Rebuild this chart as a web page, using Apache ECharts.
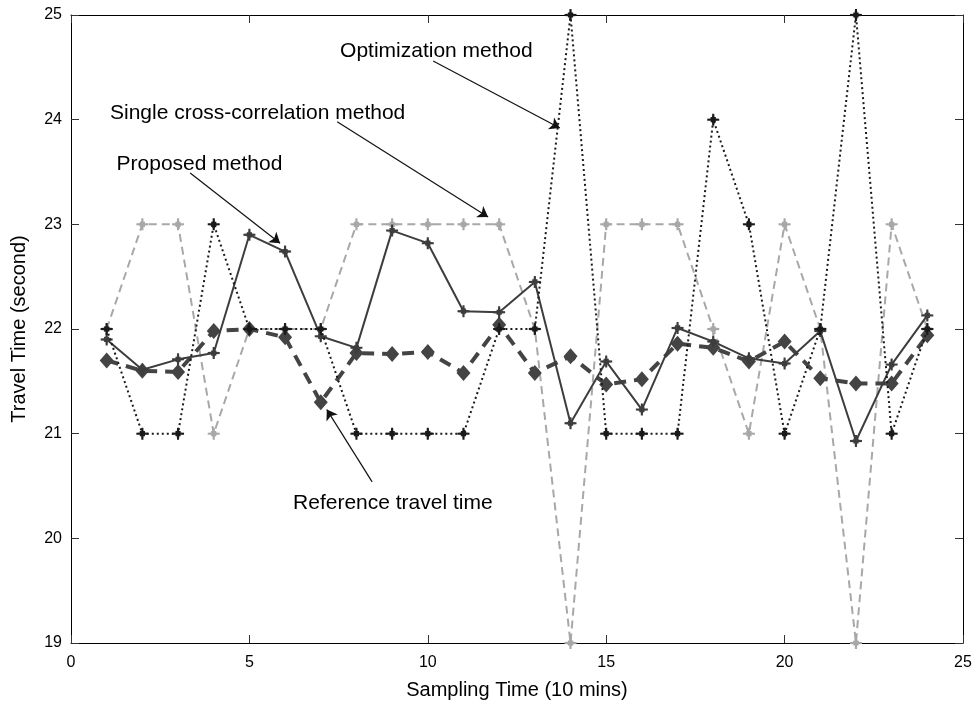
<!DOCTYPE html>
<html>
<head>
<meta charset="utf-8">
<script src="https://cdn.jsdelivr.net/npm/echarts@6/dist/echarts.min.js"></script>
<style>
  html, body { margin: 0; padding: 0; background: #fff; }
  #chart { width: 975px; height: 705px; }
</style>
</head>
<body>
<div id="chart"></div>
<script>
// Données
const samplingTime = [1, 2, 3, 4, 5, 6, 7, 8, 9, 10, 11, 12, 13, 14, 15, 16, 17, 18, 19, 20, 21, 22, 23, 24];
const referenceTime = [21.70, 21.60, 21.59, 21.98, 22.00, 21.92, 21.30, 21.77, 21.76, 21.78, 21.58, 22.04,
                       21.58, 21.74, 21.47, 21.52, 21.86, 21.82, 21.69, 21.88, 21.53, 21.48, 21.48, 21.94];
const proposedTime = [21.90, 21.61, 21.71, 21.77, 22.90, 22.74, 21.93, 21.82, 22.94, 22.82, 22.17, 22.16,
                      22.45, 21.10, 21.69, 21.23, 22.01, 21.88, 21.72, 21.67, 21.98, 20.93, 21.66, 22.13];
const singleTime = [22, 23, 23, 21, 22, 22, 22, 23, 23, 23, 23, 23, 22, 19, 23, 23, 23, 22, 21, 23, 22, 19, 23, 22];
const optimTime = [22, 21, 21, 23, 22, 22, 22, 21, 21, 21, 21, 22, 22, 25, 21, 21, 21, 24, 23, 21, 22, 25, 21, 22];

// Annotations (coordonnées en unités des axes)
const labelTexts = ['Optimization method', 'Single cross-correlation method', 'Proposed method', 'Reference travel time'];
const labelPos = [[10.24, 24.65], [5.23, 24.06], [3.60, 23.57], [9.02, 20.34]];
const arrowFrom = [[10.15, 24.56], [7.46, 23.98], [3.34, 23.49], [8.44, 20.54]];
const arrowTo = [[13.70, 23.92], [11.69, 23.07], [5.86, 22.82], [7.17, 21.23]];

const xTicks = { min: 0, max: 25, interval: 5 };
const yTicks = { min: 19, max: 25, interval: 1 };

const font = 'Liberation Sans, Arial, Helvetica, sans-serif';
// croix épaisse avec centre en losange
const starPath = 'path://M-1,-6 L1,-6 L1.2,-2.6 L2.6,-2.6 L2.6,-1.2 L6,-1 L6,1 L2.6,1.2 L2.6,2.6 L1.2,2.6 L1,6 L-1,6 L-1.2,2.6 L-2.6,2.6 L-2.6,1.2 L-6,1 L-6,-1 L-2.6,-1.2 L-2.6,-2.6 L-1.2,-2.6 Z';

function pairs(values) {
    return samplingTime.map((t, i) => [t, values[i]]);
}

const chart = echarts.init(document.getElementById('chart'));

const axisCommon = {
    axisLine: { show: true, onZero: false, lineStyle: { color: '#000', width: 1 } },
    axisTick: { show: true, inside: true, length: 8, lineStyle: { color: '#333' } },
    splitLine: { show: false }
};

const option = {
    backgroundColor: '#fff',
    animation: false,
    grid: { left: 71, right: 12, top: 15, bottom: 62 },
    xAxis: [
        Object.assign({
            type: 'value', min: xTicks.min, max: xTicks.max, interval: xTicks.interval,
            name: 'Sampling Time (10 mins)', nameLocation: 'middle', nameGap: 37,
            nameTextStyle: { fontFamily: font, fontSize: 20, color: '#000' },
            axisLabel: { fontFamily: font, fontSize: 16, color: '#000', margin: 12 }
        }, axisCommon),
        Object.assign({
            type: 'value', position: 'top', min: xTicks.min, max: xTicks.max, interval: xTicks.interval,
            axisLabel: { show: false }
        }, axisCommon)
    ],
    yAxis: [
        Object.assign({
            type: 'value', min: yTicks.min, max: yTicks.max, interval: yTicks.interval,
            name: 'Travel Time (second)', nameLocation: 'middle', nameGap: 42,
            nameTextStyle: { fontFamily: font, fontSize: 20, color: '#000' },
            axisLabel: { fontFamily: font, fontSize: 16, color: '#000', margin: 9 }
        }, axisCommon),
        Object.assign({
            type: 'value', position: 'right', min: yTicks.min, max: yTicks.max, interval: yTicks.interval,
            axisLabel: { show: false }
        }, axisCommon)
    ],
    series: [
        {
            name: 'Single cross-correlation method',
            type: 'line',
            data: pairs(singleTime),
            clip: false,
            symbol: starPath, symbolSize: 12,
            itemStyle: { color: '#a8a8a8' },
            lineStyle: { color: '#a8a8a8', width: 2, type: [8, 5] },
            z: 2
        },
        {
            name: 'Reference travel time',
            type: 'line',
            data: pairs(referenceTime),
            clip: false,
            symbol: 'diamond', symbolSize: [14, 16],
            itemStyle: { color: '#444' },
            lineStyle: { color: '#444', width: 4, type: [12, 8] },
            z: 3,
            markLine: {
                silent: true,
                symbol: ['none', 'arrow'],
                symbolSize: 10,
                label: { show: false },
                lineStyle: { color: '#111', width: 1.2, type: 'solid' },
                data: arrowFrom.map((p, i) => [{ coord: p }, { coord: arrowTo[i] }])
            },
            markPoint: {
                silent: true,
                symbol: 'circle', symbolSize: 0,
                label: {
                    show: true, position: 'inside', color: '#000',
                    fontFamily: font, fontSize: 21,
                    formatter: p => p.name
                },
                data: labelTexts.map((t, i) => ({ name: t, coord: labelPos[i] }))
            }
        },
        {
            name: 'Proposed method',
            type: 'line',
            data: pairs(proposedTime),
            clip: false,
            symbol: starPath, symbolSize: 12,
            itemStyle: { color: '#3d3d3d' },
            lineStyle: { color: '#3d3d3d', width: 2 },
            z: 4
        },
        {
            name: 'Optimization method',
            type: 'line',
            data: pairs(optimTime),
            clip: false,
            symbol: starPath, symbolSize: 12,
            itemStyle: { color: '#1a1a1a' },
            lineStyle: { color: '#1a1a1a', width: 2, type: [2, 3] },
            z: 5
        }
    ]
};

chart.setOption(option);
</script>
</body>
</html>
